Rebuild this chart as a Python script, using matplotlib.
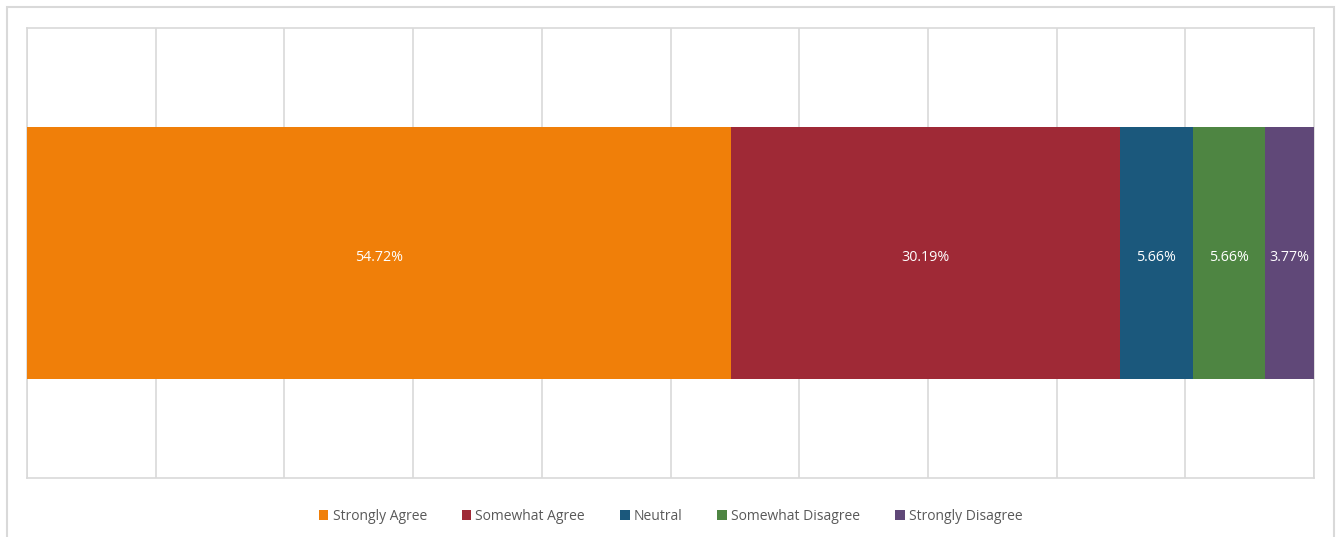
import matplotlib
matplotlib.use('Agg')
import matplotlib.pyplot as plt
from matplotlib.patches import Rectangle

# Werte aus dem Diagramm
categories = ['Strongly Agree', 'Somewhat Agree', 'Neutral', 'Somewhat Disagree', 'Strongly Disagree']
values = [54.72, 30.19, 5.66, 5.66, 3.77]
colors = ['#F07F09', '#9F2936', '#1B587C', '#4E8542', '#604878']

plt.rcParams['font.family'] = ['Open Sans', 'DejaVu Sans']

fig = plt.figure(figsize=(13.4, 5.37), dpi=100)
ax = fig.add_axes([27 / 1340, 1 - 478 / 537, 1287 / 1340, 450 / 537])

left = 0
for cat, val, col in zip(categories, values, colors):
    ax.barh(0, val, left=left, height=0.558, color=col, label=cat, zorder=3)
    ax.text(left + val / 2, -0.006, f'{val:.2f}%', ha='center', va='center_baseline',
            color='white', fontsize=10.3, zorder=4)
    left += val

ax.set_xlim(0, 100)
ax.set_ylim(-0.5, 0.5)
ax.set_xticks(range(0, 101, 10))
ax.set_yticks([])
ax.tick_params(axis='x', length=0, labelbottom=False)
ax.grid(axis='x', color='#D9D9D9', linewidth=1.2, zorder=0)
for s in ax.spines.values():
    s.set_color('#D9D9D9')
    s.set_linewidth(1.2)

ax.legend(loc='center', bbox_to_anchor=(0.5, -0.085), ncol=5, frameon=False,
          handlelength=0.7, handleheight=0.7, handletextpad=0.3, columnspacing=2.5,
          fontsize=10, labelcolor='#595959')

# Rahmen um das ganze Diagramm
fig.patches.append(Rectangle((7 / 1340, -0.01), 1327 / 1340, 1 - 7 / 537 + 0.01,
                             transform=fig.transFigure, fill=False,
                             edgecolor='#D9D9D9', linewidth=1.5))

fig.savefig('out.png', dpi=100)
